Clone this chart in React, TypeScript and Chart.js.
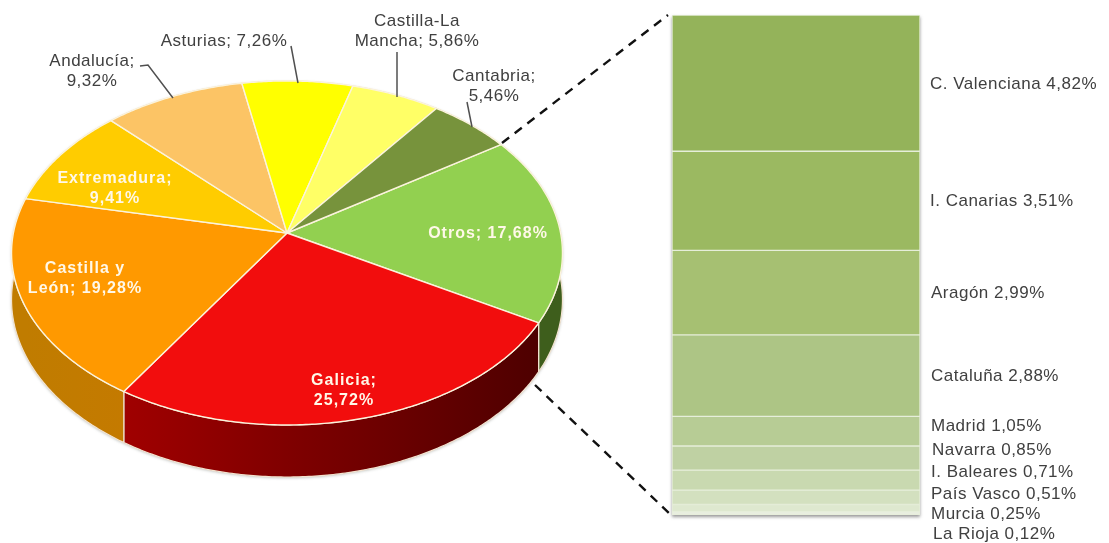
import React, { useEffect, useRef } from "react";
import { Chart, registerables } from "chart.js";

Chart.register(...registerables);

// ---- data ----
const regions = ["Otros", "Galicia", "Castilla y León", "Extremadura", "Andalucía", "Asturias", "Castilla-La Mancha", "Cantabria"];
const shares = [17.68, 25.72, 19.28, 9.41, 9.32, 7.26, 5.86, 5.46];
const sliceColors = ["#92D050", "#F20D0D", "#FF9900", "#FFCC00", "#FCC465", "#FFFF00", "#FFFF66", "#77933C"];
const wallFrom = ["#3E5E1C", "#A00000", "#C07C00", "#C09900", "#C09040", "#C0C000", "#C0C040", "#50662A"];
const wallTo = ["#3E5E1C", "#4E0000", "#C47A00", "#C09900", "#C09040", "#C0C000", "#C0C040", "#50662A"];

const otherRegions = ["C. Valenciana", "I. Canarias", "Aragón", "Cataluña", "Madrid", "Navarra", "I. Baleares", "País Vasco", "Murcia", "La Rioja"];
const otherShares = [4.82, 3.51, 2.99, 2.88, 1.05, 0.85, 0.71, 0.51, 0.25, 0.12];
const otherColors = ["#94B35A", "#9BB961", "#A6C072", "#ADC585", "#B7CC95", "#BFD1A3", "#C9D9B0", "#D3E0BF", "#DEE8CF", "#E9EEE0"];

const pct = (v: number) => v.toFixed(2).replace(".", ",") + "%";

// label layout: lines for each pie slice, in region order
const pieLabelLines = [
  ["Otros; " + pct(shares[0])],
  ["Galicia;", pct(shares[1])],
  ["Castilla y", "León; " + pct(shares[2])],
  ["Extremadura;", pct(shares[3])],
  ["Andalucía;", pct(shares[4])],
  ["Asturias; " + pct(shares[5])],
  ["Castilla-La", "Mancha; " + pct(shares[6])],
  ["Cantabria;", pct(shares[7])],
];
const pieLabelX = [488, 344, 85, 115, 92, 224, 417, 494];
const pieLabelY = [234, 381, 269, 179, 61, 41, 21, 76];
const pieLabelInside = [true, true, true, true, false, false, false, false];
const leaders: number[][][] = [
  [[140, 66], [148, 65], [173, 98]],
  [[291, 46], [298, 83]],
  [[397, 52], [397, 97]],
  [[467, 102], [472, 127]],
];
const otherLabelX = [930, 930, 931, 931, 931, 932, 931, 931, 931, 933];
const otherLabelY = [84, 201, 293, 376, 426, 450, 472, 494, 514, 534];

// perspective of the pie disc
const CX = 287, CY = 233, RX = 273.6, RY = 169.7, K = 0.116, DEPTH = 46;
const project = (a: number, r = 1, drop = 0) => {
  const u = r * Math.cos(a), v = r * Math.sin(a), w = 1 - K * v;
  return { x: CX + (RX * u) / w, y: CY + (RY * v + drop) / w };
};
const rim = (ctx: CanvasRenderingContext2D, a0: number, a1: number, drop: number, first: boolean) => {
  const n = Math.max(4, Math.ceil(Math.abs(a1 - a0) / 0.01));
  for (let i = 0; i <= n; i++) {
    const p = project(a0 + ((a1 - a0) * i) / n, 1, drop);
    if (i === 0 && first) ctx.moveTo(p.x, p.y);
    else ctx.lineTo(p.x, p.y);
  }
};

const piePainter = {
  id: "piePainter",
  beforeDatasetsDraw(chart: any) {
    const ctx: CanvasRenderingContext2D = chart.ctx;
    const arcs = chart.getDatasetMeta(0).data;
    const colors = chart.data.datasets[0].backgroundColor;
    ctx.save();
    ctx.lineJoin = "round";
    // walls
    arcs.forEach((arc: any, i: number) => {
      const a0 = arc.startAngle, a1 = arc.endAngle;
      const s = project(a0), e = project(a1);
      const g = ctx.createLinearGradient(Math.min(s.x, e.x), 0, Math.max(s.x, e.x), 0);
      g.addColorStop(0, wallFrom[i]);
      g.addColorStop(1, wallTo[i]);
      ctx.beginPath();
      rim(ctx, a0, a1, 0, true);
      rim(ctx, a1, a0, DEPTH, false);
      ctx.closePath();
      ctx.fillStyle = g;
      ctx.shadowColor = "rgba(60,70,60,0.35)";
      ctx.shadowBlur = 3;
      ctx.shadowOffsetY = 1;
      ctx.fill();
      ctx.shadowColor = "transparent";
      ctx.strokeStyle = "#F3E3D0";
      ctx.lineWidth = 1.2;
      ctx.stroke();
    });
    // top faces
    arcs.forEach((arc: any, i: number) => {
      ctx.beginPath();
      ctx.moveTo(CX, CY);
      rim(ctx, arc.startAngle, arc.endAngle, 0, false);
      ctx.closePath();
      ctx.fillStyle = colors[i];
      ctx.fill();
      ctx.strokeStyle = "#FBF3DC";
      ctx.lineWidth = 1.4;
      ctx.stroke();
    });
    ctx.restore();
    return false;
  },
  afterDraw(chart: any) {
    const ctx: any = chart.ctx;
    ctx.save();
    // leader lines
    ctx.strokeStyle = "#505050";
    ctx.lineWidth = 1.5;
    leaders.forEach((pts) => {
      ctx.beginPath();
      pts.forEach(([x, y], i) => (i ? ctx.lineTo(x, y) : ctx.moveTo(x, y)));
      ctx.stroke();
    });
    // slice labels
    ctx.textAlign = "center";
    ctx.textBaseline = "middle";
    pieLabelLines.forEach((lines, i) => {
      ctx.font = pieLabelInside[i] ? 'bold 16px "Liberation Sans"' : '17px "Liberation Sans"';
      ctx.letterSpacing = pieLabelInside[i] ? "1px" : "0.5px";
      ctx.fillStyle = pieLabelInside[i] ? "#FFF8E8" : "#404040";
      lines.forEach((t, j) => ctx.fillText(t, pieLabelX[i], pieLabelY[i] + j * 20));
    });
    // dashed connectors to the stacked bar
    ctx.strokeStyle = "#111";
    ctx.lineWidth = 2.4;
    ctx.setLineDash([9, 7]);
    ctx.beginPath();
    ctx.moveTo(502, 143);
    ctx.lineTo(668, 15);
    ctx.moveTo(535, 385);
    ctx.lineTo(670, 514);
    ctx.stroke();
    ctx.restore();
  },
};

const barLabels = {
  id: "barLabels",
  beforeDatasetsDraw(chart: any) {
    const { ctx, chartArea: a } = chart;
    ctx.save();
    ctx.shadowColor = "rgba(70,70,70,0.55)";
    ctx.shadowBlur = 3;
    ctx.shadowOffsetY = 2;
    ctx.fillStyle = "#DDE6CC";
    ctx.fillRect(a.left, a.top, a.right - a.left, a.bottom - a.top);
    ctx.restore();
  },
  afterDraw(chart: any) {
    const ctx: any = chart.ctx;
    ctx.save();
    ctx.font = '17px "Liberation Sans"';
    ctx.letterSpacing = "0.5px";
    ctx.fillStyle = "#404040";
    ctx.textBaseline = "middle";
    otherRegions.forEach((r, i) => {
      ctx.fillText(`${r} ${pct(otherShares[i])}`, otherLabelX[i], otherLabelY[i]);
    });
    ctx.restore();
  },
};

export default function App() {
  const pieRef = useRef<HTMLCanvasElement>(null);
  const barRef = useRef<HTMLCanvasElement>(null);

  useEffect(() => {
    const pie = new Chart(pieRef.current!, {
      type: "pie",
      data: {
        labels: regions,
        datasets: [{ data: shares, backgroundColor: sliceColors, borderWidth: 0 }],
      },
      options: {
        responsive: false,
        animation: false,
        rotation: 56.3,
        plugins: { legend: { display: false }, tooltip: { enabled: false } },
      },
      plugins: [piePainter],
    } as any);

    const total = otherShares.reduce((s, v) => s + v, 0);
    const bar = new Chart(barRef.current!, {
      type: "bar",
      data: {
        labels: ["Otros"],
        datasets: otherRegions.map((r, i) => ({
          label: r,
          data: [otherShares[i]],
          backgroundColor: otherColors[i],
          borderColor: "#E6EEDA",
          borderWidth: 1,
          borderSkipped: false,
          barPercentage: 1,
          categoryPercentage: 1,
        })),
      },
      options: {
        responsive: false,
        animation: false,
        layout: { padding: { left: 672, right: 189, top: 15, bottom: 28 } },
        scales: {
          x: { stacked: true, display: false },
          y: { stacked: true, display: false, reverse: true, min: 0, max: total },
        },
        plugins: { legend: { display: false }, tooltip: { enabled: false } },
      },
      plugins: [barLabels],
    } as any);

    return () => {
      pie.destroy();
      bar.destroy();
    };
  }, []);

  const style: React.CSSProperties = { position: "absolute", left: 0, top: 0, display: "block" };
  return (
    <div style={{ position: "absolute", left: 0, top: 0, width: 1109, height: 543, background: "#fff", overflow: "hidden" }}>
      <canvas ref={barRef} width={1109} height={543} style={style} />
      <canvas ref={pieRef} width={1109} height={543} style={style} />
    </div>
  );
}
